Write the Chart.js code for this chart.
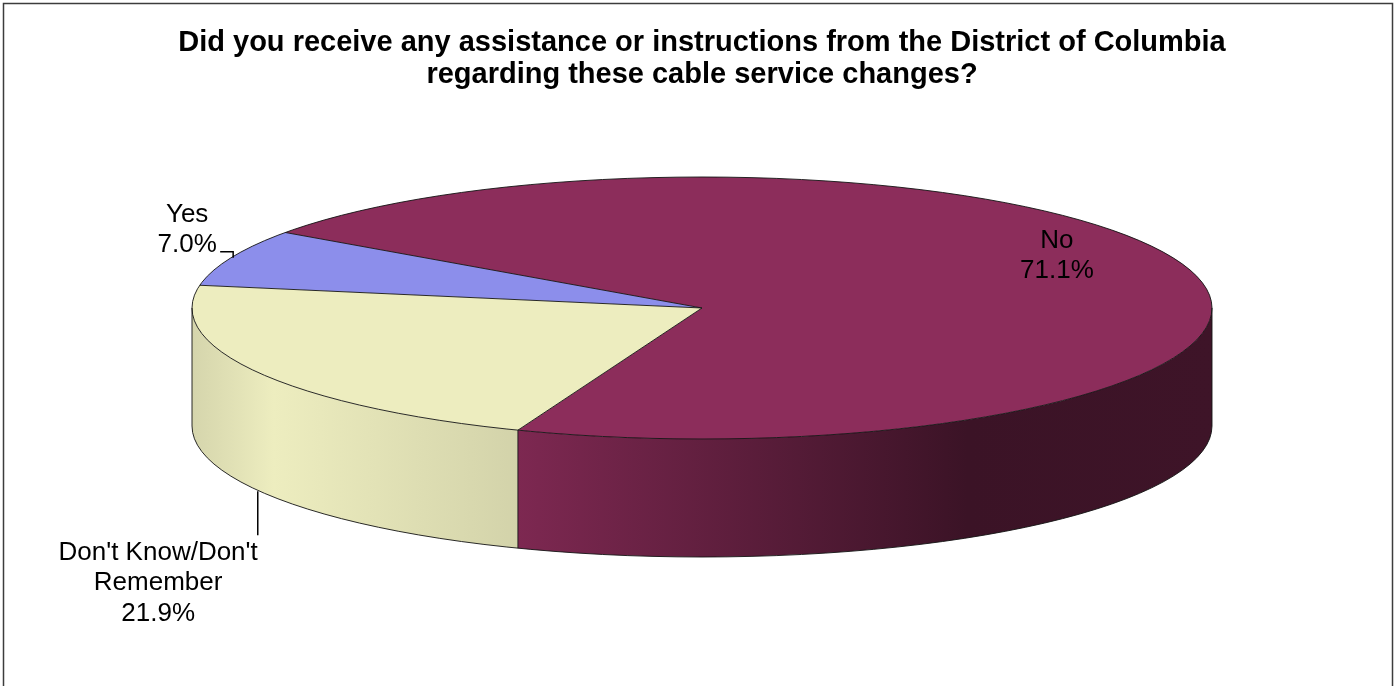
<!DOCTYPE html>
<html>
<head>
<meta charset="utf-8">
<title>Assistance from the District of Columbia</title>
<script src="https://cdn.jsdelivr.net/npm/chart.js@4.4.1/dist/chart.umd.min.js"></script>
<style>
  html, body { margin: 0; padding: 0; background: #fff; }
  #wrap { position: relative; width: 1396px; height: 686px; }
</style>
</head>
<body>
<div id="wrap"><canvas id="pie" width="1396" height="686"></canvas></div>
<script>
'use strict';

// ── Data ──────────────────────────────────────────────────────────────────────
const categories  = ['Yes', 'No', "Don't Know/Don't Remember"];
const labelLines  = [['Yes'], ['No'], ["Don't Know/Don't", 'Remember']];
const percents    = [7.0, 71.1, 21.9];
const sliceColors = ['#8C8EEB', '#8C2D5B', '#EDEDBF'];
const titleLines  = [
  'Did you receive any assistance or instructions from the District of Columbia',
  'regarding these cable service changes?',
];

// ── Look ──────────────────────────────────────────────────────────────────────
const FONT  = "'Liberation Sans', Arial, sans-serif";
const TILT  = 131 / 510;   // vertical squash of the pie's top face
const DEPTH = 118;         // height of the side wall
const OUTLINE = 'rgba(20,20,20,0.9)';
// brightness along the pie's width for the side wall (0 = left edge, 1 = right edge)
const WALL_SHADE = [[0, 0.9], [0.08, 1.0], [0.32, 0.89], [0.76, 0.42], [1, 0.44]];

function shade(hex, f) {
  const n = parseInt(hex.slice(1), 16);
  const c = [(n >> 16) & 255, (n >> 8) & 255, n & 255].map(v => Math.round(Math.min(255, v * f)));
  return `rgb(${ c.join(',') })`;
}

// angle spans of [s, e] that face the viewer (lower half of the ellipse)
function frontSpans(s, e) {
  const TWO = Math.PI * 2, out = [];
  for (let n = Math.floor(s / TWO) - 1; n <= Math.ceil(e / TWO); n++) {
    const a = Math.max(s, n * TWO), b = Math.min(e, n * TWO + Math.PI);
    if (b > a) out.push([a, b]);
  }
  return out;
}

// ── Plugins ───────────────────────────────────────────────────────────────────
const framePlugin = {
  id: 'frame',
  beforeDraw(chart) {
    const { ctx } = chart;
    ctx.save();
    ctx.strokeStyle = '#3c3c3c';
    ctx.lineWidth = 1.5;
    ctx.strokeRect(3.5, 3.5, chart.width - 7, chart.height + 20);
    ctx.restore();
  },
};

const pie3dPlugin = {
  id: 'pie3d',
  beforeDatasetsDraw(chart) {
    const { ctx } = chart;
    const arcs = chart.getDatasetMeta(0).data;
    const { x: cx, y: cy, outerRadius: r } = arcs[0];
    const ry = r * TILT;

    // side walls
    arcs.forEach((arc, i) => {
      const g = ctx.createLinearGradient(cx - r, 0, cx + r, 0);
      WALL_SHADE.forEach(([p, f]) => g.addColorStop(p, shade(sliceColors[i], f)));
      frontSpans(arc.startAngle, arc.endAngle).forEach(([a, b]) => {
        ctx.beginPath();
        ctx.ellipse(cx, cy, r, ry, 0, a, b);
        ctx.ellipse(cx, cy + DEPTH, r, ry, 0, b, a, true);
        ctx.closePath();
        ctx.fillStyle = g;
        ctx.fill();
      });
    });

    // squash the flat pie into the tilted top face
    ctx.save();
    ctx.translate(cx, cy);
    ctx.scale(1, TILT);
    ctx.translate(-cx, -cy);
  },
  afterDatasetsDraw(chart) {
    const { ctx } = chart;
    ctx.restore();

    const arcs = chart.getDatasetMeta(0).data;
    const { x: cx, y: cy, outerRadius: r } = arcs[0];
    const ry = r * TILT;
    const pt = (a, dy = 0) => [cx + r * Math.cos(a), cy + ry * Math.sin(a) + dy];

    // outlines
    ctx.save();
    ctx.strokeStyle = OUTLINE;
    ctx.lineWidth = 1;
    ctx.beginPath();
    ctx.ellipse(cx, cy, r, ry, 0, 0, Math.PI * 2);
    ctx.moveTo(cx + r, cy + DEPTH);
    ctx.ellipse(cx, cy + DEPTH, r, ry, 0, 0, Math.PI);
    ctx.moveTo(cx + r, cy); ctx.lineTo(cx + r, cy + DEPTH);
    ctx.moveTo(cx - r, cy); ctx.lineTo(cx - r, cy + DEPTH);
    arcs.forEach(arc => {
      const [x, y] = pt(arc.startAngle);
      ctx.moveTo(cx, cy); ctx.lineTo(x, y);
      const s = Math.sin(arc.startAngle);
      if (s > 0.001) { ctx.moveTo(x, y); ctx.lineTo(x, y + DEPTH); }
    });
    ctx.stroke();
    ctx.restore();

    // data labels
    ctx.save();
    ctx.font = `26px ${ FONT }`;
    ctx.fillStyle = '#000';
    ctx.textAlign = 'center';
    ctx.textBaseline = 'middle';
    ctx.strokeStyle = '#000';
    ctx.lineWidth = 1.5;
    const LH = 30;
    arcs.forEach((arc, i) => {
      const mid = (arc.startAngle + arc.endAngle) / 2;
      const lines = [...labelLines[i], percents[i].toFixed(1) + '%'];
      if (i === 1) {
        // inside label
        const x = cx + 0.727 * r * Math.cos(mid);
        const y = cy + 0.727 * ry * Math.sin(mid) - 25;
        lines.forEach((t, k) => ctx.fillText(t, x, y + (k - (lines.length - 1) / 2) * LH));
      } else if (Math.sin(mid) < 0) {
        // leader up-left, text to its left
        const [x, y] = pt(mid);
        ctx.beginPath();
        ctx.moveTo(x + 2, y); ctx.lineTo(x + 2, y - 6); ctx.lineTo(x - 11, y - 6);
        ctx.stroke();
        const tx = x - 44, ty = y - 6;
        lines.forEach((t, k) => ctx.fillText(t, tx, ty - 7 - (lines.length - 1 - k) * LH));
      } else {
        // leader straight down from the wall, text below it
        const [x, y] = pt(mid, DEPTH);
        ctx.beginPath();
        ctx.moveTo(x, y + 1); ctx.lineTo(x, y + 45);
        ctx.stroke();
        const w = Math.max(...lines.map(t => ctx.measureText(t).width));
        const tx = x - w / 2, ty = y + 62;
        lines.forEach((t, k) => ctx.fillText(t, tx, ty + k * 30.5));
      }
    });
    ctx.restore();
  },
};

// ── Chart ─────────────────────────────────────────────────────────────────────
new Chart(document.getElementById('pie'), {
  type: 'pie',
  data: {
    labels: categories,
    datasets: [{
      data: percents,
      backgroundColor: sliceColors,
      borderWidth: 0,
      hoverOffset: 0,
      radius: 510,
      clip: false,
    }],
  },
  options: {
    responsive: false,
    animation: false,
    events: [],
    rotation: -80,
    layout: { padding: { left: 8, right: 0, top: 0, bottom: 161 } },
    plugins: {
      legend: { display: false },
      tooltip: { enabled: false },
      title: {
        display: true,
        text: titleLines,
        color: '#000',
        font: { family: FONT, size: 29, weight: 'bold', lineHeight: '32px' },
        padding: { top: 27, bottom: 0 },
      },
    },
  },
  plugins: [framePlugin, pie3dPlugin],
});
</script>
</body>
</html>
